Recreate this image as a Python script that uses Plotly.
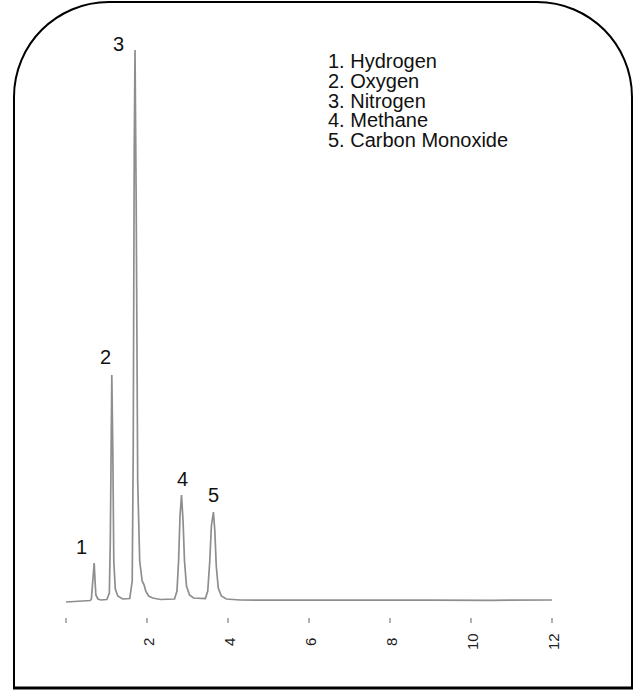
import plotly.graph_objects as go

# Chromatogram trace (time in min, signal in arbitrary units)
time = [0.0, 0.3, 0.6, 0.627, 0.652, 0.664, 0.696, 0.72, 0.738, 0.787, 0.86, 1.008,
        1.07, 1.094, 1.119, 1.131, 1.156, 1.18, 1.217, 1.279, 1.40, 1.574,
        1.635, 1.66, 1.685, 1.704, 1.733, 1.77, 1.82, 1.88, 1.93, 1.967, 2.04, 2.14, 2.336, 2.68,
        2.74, 2.78, 2.815, 2.852, 2.89, 2.926, 2.975, 3.05, 3.15, 3.44,
        3.50, 3.55, 3.59, 3.64, 3.675, 3.71, 3.76, 3.836, 3.96, 4.3,
        5.0, 6.5, 8.0, 9.0, 10.5, 12.0]
signal = [-1, 0, 0.5, 2, 15, 20, 38, 18, 6, 2, 1, 1.5,
          8, 60, 180, 226, 150, 40, 12, 5, 2, 2.5,
          20, 150, 450, 551, 400, 120, 40, 20, 16, 10, 5, 3, 1.5, 2,
          10, 40, 85, 106, 80, 40, 15, 6, 3, 2.5,
          10, 40, 75, 89, 70, 35, 13, 5, 2, 1,
          0.8, 1, 0.6, 0.8, 0.7, 1]

# Peaks: label, retention time, apex height
peak_labels = ["1", "2", "3", "4", "5"]
peak_times = [0.696, 1.131, 1.704, 2.852, 3.64]
peak_heights = [38, 226, 551, 106, 89]
label_offsets = [(-13, 16), (-6, 18), (-17, 6), (1, 16), (0, 17)]

compounds = ["1. Hydrogen", "2. Oxygen", "3. Nitrogen", "4. Methane", "5. Carbon Monoxide"]

tick_vals = [0, 2, 4, 6, 8, 10, 12]
tick_text = ["", "2", "4", "6", "8", "10", "12"]

FONT = "Liberation Sans, Arial, sans-serif"
W, H = 640, 690
ml = 66
mr = W - 552
mt = 41
mb = H - 617
x_range = [0, 12]
y_range = [-16, 560]
pw, ph = W - ml - mr, H - mt - mb


def px_to_paper(px, py):
    """page pixel -> paper coords"""
    return ((px - ml) / pw, (H - mb - py) / ph)


fig = go.Figure()
fig.add_trace(go.Scatter(x=time, y=signal, mode="lines",
                         line=dict(color="#8e8e8e", width=1.7),
                         hoverinfo="skip", showlegend=False))

for lab, t, h, (dx, dy) in zip(peak_labels, peak_times, peak_heights, label_offsets):
    fig.add_annotation(x=t, y=h, xref="x", yref="y", text=lab, showarrow=False,
                       xshift=dx, yshift=dy,
                       font=dict(size=20, color="#111", family=FONT))

for i, c in enumerate(compounds):
    ax, ay = px_to_paper(327, 61 + i * 19.75)
    fig.add_annotation(x=ax, y=ay, xref="paper", yref="paper", text=c, showarrow=False,
                       xanchor="left", yanchor="middle", borderpad=0,
                       font=dict(size=20, color="#111", family=FONT))

# tick labels (rotated, centred under each tick)
_, lab_y = px_to_paper(0, 642)
for v, t in zip(tick_vals, tick_text):
    if t:
        fig.add_annotation(x=v, y=lab_y, xref="x", yref="paper", text=t, showarrow=False,
                           textangle=-90, xanchor="center", yanchor="middle", xshift=1,
                           font=dict(size=15, color="#222", family=FONT))

# Rounded frame
L, R, T, B, r = 14, 632, 2, 688, 95
k = 0.5523 * r


def P(x, y):
    a, b = px_to_paper(x, y)
    return f"{a:.5f},{b:.5f}"


path = (f"M {P(L, B)} L {P(L, T + r)} "
        f"C {P(L, T + r - k)} {P(L + r - k, T)} {P(L + r, T)} "
        f"L {P(R - r, T)} "
        f"C {P(R - r + k, T)} {P(R, T + r - k)} {P(R, T + r)} "
        f"L {P(R, B)}")
fig.add_shape(type="path", path=path, xref="paper", yref="paper",
              line=dict(color="black", width=2))
x0, y0 = px_to_paper(L - 1, B)
x1, y1 = px_to_paper(R + 1, B)
fig.add_shape(type="line", x0=x0, y0=y0, x1=x1, y1=y1, xref="paper", yref="paper",
              line=dict(color="black", width=3))

fig.update_layout(
    width=W, height=H,
    margin=dict(l=ml, r=mr, t=mt, b=mb, pad=0),
    paper_bgcolor="white", plot_bgcolor="white",
    xaxis=dict(range=x_range, tickvals=tick_vals, showticklabels=False,
               showgrid=False, zeroline=False, showline=False,
               ticks="outside", ticklen=5, tickwidth=2, tickcolor="#b0b0b0"),
    yaxis=dict(range=y_range, visible=False),
)

fig.write_html("out.html",
               config={"displayModeBar": False},
               post_script="document.body.style.margin='0';"
                           "document.body.style.overflow='hidden';")
